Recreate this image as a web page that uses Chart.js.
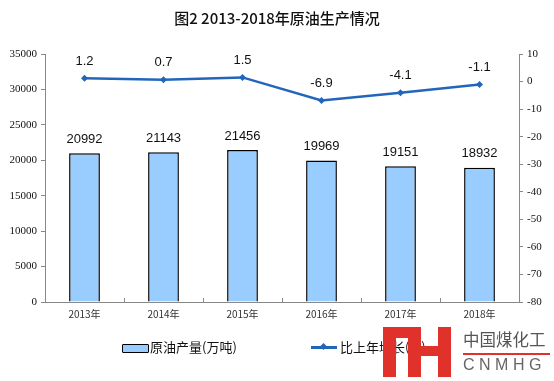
<!DOCTYPE html>
<html><head><meta charset="utf-8">
<script src="https://cdn.jsdelivr.net/npm/chart.js@4/dist/chart.umd.min.js"></script>
<style>
html,body{margin:0;padding:0;background:#fff;}
#wrap{position:relative;width:554px;height:381px;overflow:hidden;}
#c{position:absolute;left:0;top:0;}
.t{position:absolute;font-family:"Noto Sans CJK SC","Noto Sans",sans-serif;white-space:nowrap;}
.r{position:absolute;background:#E0312B;}
</style></head><body>
<div id="wrap">
<canvas id="c" width="554" height="381"></canvas>
<div class="t" style="left:0;width:554px;top:7px;text-align:center;font-size:15px;font-weight:500;color:#111;">图2 2013-2018年原油生产情况</div>
<div style="position:absolute;left:122px;top:344px;width:25px;height:7px;background:#99CCFF;border:1.5px solid #000;border-radius:1px;"></div>
<div class="t" style="left:150px;top:337px;font-size:13px;color:#111;">原油产量(万吨)</div>
<div style="position:absolute;left:311px;top:346px;width:26px;height:2.5px;background:#2266BB;"></div>
<div style="position:absolute;left:321px;top:344px;width:5px;height:5px;background:#2266BB;transform:rotate(45deg);"></div>
<div class="t" style="left:340px;top:337px;font-size:13px;color:#111;">比上年增长(%)</div>
<div class="r" style="left:383px;top:327px;width:13px;height:50px;"></div>
<div class="r" style="left:383px;top:327px;width:38px;height:11px;"></div>
<div class="r" style="left:408px;top:327px;width:13px;height:50px;"></div>
<div class="r" style="left:438px;top:327px;width:13px;height:50px;"></div>
<div class="r" style="left:420px;top:346px;width:19px;height:10px;"></div>
<div class="t" style="left:463px;top:327px;font-size:16.5px;color:#555;">中国煤化工</div>
<div style="position:absolute;left:463px;top:353px;width:87px;height:1.5px;background:#E0312B;"></div>
<div class="t" style="left:463px;top:356px;font-size:16px;letter-spacing:4.5px;color:#666;font-family:'Liberation Sans',sans-serif;">CNMHG</div>
</div>
<script>
const categories = ["2013年","2014年","2015年","2016年","2017年","2018年"];
const output = [20992, 21143, 21456, 19969, 19151, 18932];
const growth = [1.2, 0.7, 1.5, -6.9, -4.1, -1.1];
const growthLabels = ["1.2","0.7","1.5","-6.9","-4.1","-1.1"];

const labelPlugin = {
  id: 'vals',
  afterDatasetsDraw(chart) {
    const ctx = chart.ctx;
    ctx.save();
    ctx.font = '13px "Liberation Sans", Arial, sans-serif';
    ctx.fillStyle = '#111';
    ctx.textAlign = 'center';
    ctx.textBaseline = 'middle';
    chart.getDatasetMeta(0).data.forEach((el, i) => {
      ctx.fillText(String(output[i]), el.x, el.y - 14);
    });
    chart.getDatasetMeta(1).data.forEach((el, i) => {
      ctx.fillText(growthLabels[i], el.x, el.y - 17);
    });
    const xs = chart.scales.x, yb = chart.chartArea.bottom;
    ctx.strokeStyle = '#888'; ctx.lineWidth = 1;
    for (let i = 1; i < categories.length; i++) {
      const px = Math.round((xs.getPixelForTick(i - 1) + xs.getPixelForTick(i)) / 2) + 0.5;
      ctx.beginPath(); ctx.moveTo(px, yb); ctx.lineTo(px, yb - 4); ctx.stroke();
    }
    ctx.restore();
  }
};

new Chart(document.getElementById('c'), {
  data: {
    labels: categories,
    datasets: [
      { type: 'bar', label: '原油产量(万吨)', data: output, yAxisID: 'y',
        backgroundColor: '#99CCFF', borderColor: '#000', borderWidth: 1.5,
        barPercentage: 0.39, categoryPercentage: 1, order: 2 },
      { type: 'line', label: '比上年增长(%)', data: growth, yAxisID: 'y1',
        borderColor: '#2266BB', backgroundColor: '#2266BB', borderWidth: 2.5,
        pointStyle: 'rectRot', pointRadius: 3.5, pointBorderWidth: 0, tension: 0, order: 1 }
    ]
  },
  options: {
    responsive: false, animation: false,
    layout: { padding: { top: 54, bottom: 0, left: 0, right: 0 } },
    plugins: { legend: { display: false }, tooltip: { enabled: false }, title: { display: false } },
    scales: {
      x: {
        offset: true,
        grid: { display: false },
        border: { color: '#888', width: 1 },
        ticks: { color: '#333', font: { size: 10, family: '"Noto Sans CJK SC", sans-serif' }, padding: -2, maxRotation: 0 },
        afterFit(s) { s.height = 79; }
      },
      y: {
        position: 'left', min: 0, max: 35000,
        grid: { drawOnChartArea: false, tickLength: 4, color: '#888' },
        border: { color: '#888', width: 1 },
        ticks: { stepSize: 5000, color: '#111', font: { size: 11, family: 'Liberation Serif, serif' }, padding: 4,
                 callback: (v) => String(v) },
        afterFit(s) { s.width = 45; }
      },
      y1: {
        position: 'right', min: -80, max: 10,
        grid: { drawOnChartArea: false, tickLength: 4, color: '#888' },
        border: { color: '#888', width: 1 },
        ticks: { stepSize: 10, color: '#111', font: { size: 11, family: 'Liberation Serif, serif' }, padding: 4,
                 callback: (v) => String(v) },
        afterFit(s) { s.width = 35; }
      }
    }
  },
  plugins: [labelPlugin]
});
</script>
</body></html>
